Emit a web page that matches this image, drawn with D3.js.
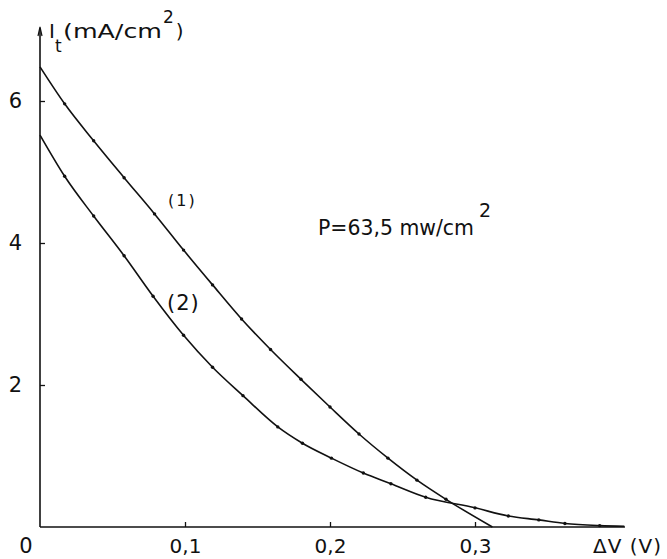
<!DOCTYPE html>
<html>
<head>
<meta charset="utf-8">
<script src="https://cdn.jsdelivr.net/npm/d3@7"></script>
<style>
  body { margin: 0; background: #fff; }
  text { font-family: "DejaVu Sans", sans-serif; fill: #111; }
</style>
</head>
<body>
<div id="chart"></div>
<script>
// Data (V in volts, I in mA/cm2)
const v1 = [0, 0.017, 0.037, 0.058, 0.079, 0.099, 0.119, 0.139, 0.159, 0.18, 0.2, 0.22, 0.24, 0.26, 0.28, 0.312];
const i1 = [6.48, 5.96, 5.44, 4.92, 4.41, 3.90, 3.41, 2.93, 2.50, 2.08, 1.69, 1.31, 0.97, 0.66, 0.39, 0.0];
const v2 = [0, 0.017, 0.037, 0.058, 0.078, 0.099, 0.119, 0.14, 0.164, 0.181, 0.201, 0.223, 0.242, 0.266, 0.30, 0.323, 0.344, 0.362, 0.386, 0.403];
const i2 = [5.52, 4.94, 4.38, 3.82, 3.25, 2.70, 2.25, 1.85, 1.41, 1.18, 0.97, 0.76, 0.61, 0.42, 0.27, 0.155, 0.10, 0.05, 0.02, 0.01];
const xTicks = [0.1, 0.2, 0.3];
const yTicks = [2, 4, 6];

const width = 667;
const height = 559;

const svg = d3.select("#chart")
    .append("svg")
    .attr("width", width)
    .attr("height", height);

const x = d3.scaleLinear().domain([0, 0.4]).range([40, 620]);
const y = d3.scaleLinear().domain([0, 7]).range([527, 30]);

// x axis: ticks point up, comma decimals
const xAxis = svg.append("g")
    .attr("transform", `translate(0,${y(0)})`)
    .call(d3.axisBottom(x).tickValues(xTicks).tickSize(-5).tickPadding(12)
        .tickFormat(d => d.toFixed(1).replace(".", ",")));
xAxis.select(".domain").remove();
xAxis.selectAll("line").attr("stroke", "#111").attr("stroke-width", 1.3);
xAxis.selectAll("text").style("font-size", "20px").attr("fill", "#111");

// y axis: ticks point right
const yAxis = svg.append("g")
    .attr("transform", `translate(${x(0)},0)`)
    .call(d3.axisLeft(y).tickValues(yTicks).tickSize(-5).tickPadding(18)
        .tickFormat(d3.format("d")));
yAxis.select(".domain").remove();
yAxis.selectAll("line").attr("stroke", "#111").attr("stroke-width", 1.3);
yAxis.selectAll("text").style("font-size", "21px").attr("fill", "#111");

// axis lines
svg.append("line")
    .attr("x1", x(0)).attr("x2", x(0.4034))
    .attr("y1", y(0)).attr("y2", y(0))
    .attr("stroke", "#111").attr("stroke-width", 1.6);
svg.append("line")
    .attr("x1", x(0)).attr("x2", x(0))
    .attr("y1", y(0)).attr("y2", 28)
    .attr("stroke", "#111").attr("stroke-width", 1.6);
svg.append("path")
    .attr("d", `M${x(0) - 2},36 L${x(0)},27 L${x(0) + 2},36`)
    .attr("fill", "none").attr("stroke", "#111").attr("stroke-width", 1.2);

// origin label
svg.append("text")
    .attr("x", 26).attr("y", 553)
    .attr("text-anchor", "middle")
    .style("font-size", "21px")
    .text("0");

// axis titles
const yt = svg.append("text").attr("x", 49).attr("y", 38).style("font-size", "20px");
yt.append("tspan").text("I");
yt.append("tspan").attr("dy", 14).style("font-size", "17px").text("t");
yt.append("tspan").attr("x", 63).attr("dy", -14)
    .attr("textLength", 99).attr("lengthAdjust", "spacingAndGlyphs").text("(mA/cm");
yt.append("tspan").attr("dy", -15).attr("dx", 1).style("font-size", "17px").text("2");
yt.append("tspan").attr("dy", 15).attr("dx", 2).text(")");

svg.append("text")
    .attr("x", 593).attr("y", 553)
    .style("font-size", "20px")
    .attr("textLength", 68)
    .attr("lengthAdjust", "spacing")
    .text("ΔV (V)");

// curves
const line = d3.line()
    .x(d => x(d[0]))
    .y(d => y(d[1]))
    .curve(d3.curveMonotoneX);

const series = [
    d3.zip(v1, i1),
    d3.zip(v2, i2)
];

series.forEach(pts => {
    svg.append("path")
        .datum(pts)
        .attr("d", line)
        .attr("fill", "none")
        .attr("stroke", "#111")
        .attr("stroke-width", 1.6);

    svg.append("g").selectAll("circle")
        .data(pts.slice(1, -1))
        .join("circle")
        .attr("cx", d => x(d[0]))
        .attr("cy", d => y(d[1]))
        .attr("r", 1.7)
        .attr("fill", "#111");
});

// curve labels
svg.append("text")
    .attr("x", 168).attr("y", 206)
    .style("font-size", "16px")
    .style("letter-spacing", "2px")
    .text("(1)");
svg.append("text")
    .attr("x", 167).attr("y", 310)
    .style("font-size", "21px")
    .style("letter-spacing", "1px")
    .text("(2)");

// power annotation
svg.append("text").attr("x", 318).attr("y", 235).style("font-size", "21px")
    .attr("textLength", 156).attr("lengthAdjust", "spacingAndGlyphs")
    .text("P=63,5 mw/cm");
svg.append("text").attr("x", 479).attr("y", 217).style("font-size", "19px")
    .text("2");
</script>
</body>
</html>
